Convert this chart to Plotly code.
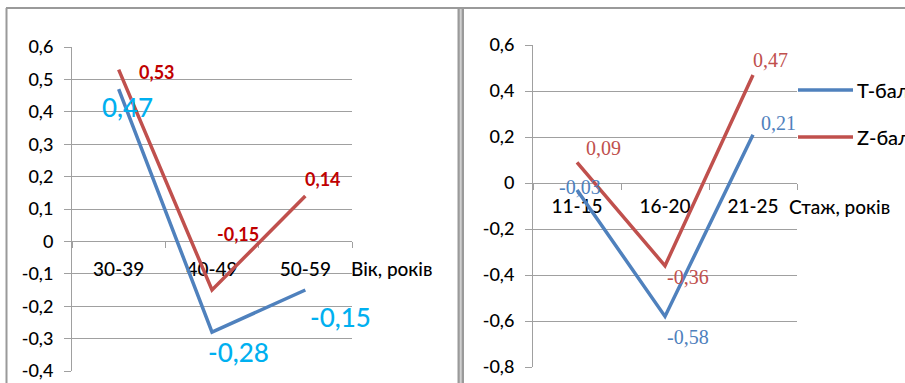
import plotly.graph_objects as go

# ---- data -------------------------------------------------------------
series_names = ["Т-бали", "Z-бали"]

age_groups = ["30-39", "40-49", "50-59"]
age_t = [0.47, -0.28, -0.15]
age_z = [0.53, -0.15, 0.14]

tenure_groups = ["11-15", "16-20", "21-25"]
tenure_t = [-0.03, -0.58, 0.21]
tenure_z = [0.09, -0.36, 0.47]

left_ticks = [0.6, 0.5, 0.4, 0.3, 0.2, 0.1, 0, -0.1, -0.2, -0.3, -0.4]
right_ticks = [0.6, 0.4, 0.2, 0, -0.2, -0.4, -0.6, -0.8]

left_title = "Вік, років"
right_title = "Стаж, років"

# ---- styling ----------------------------------------------------------
W, H = 905, 383
BLUE = "#4F81BD"
RED = "#C0504D"
GRID = "#A0A0A0"
SANS = "Lato, 'Open Sans', sans-serif"
SERIF = "'Liberation Serif', 'DejaVu Serif', serif"
TXT_W = 500


def px_x(x):
    return x / W


def px_y(y):
    return 1 - y / H


def fmt(v):
    return ("%.2f" % v).replace(".", ",") if v != 0 else "0"


def tick_text(v):
    if abs(v) < 1e-9:
        return "0"
    return ("%.1f" % v).replace(".", ",")


# plot-area geometry (pixels)
L_X0, L_X1, L_Y0, L_Y1 = 72, 352, 47, 371
R_X0, R_X1, R_Y0, R_Y1 = 533, 797, 45, 367
L_RANGE = [-0.4, 0.6]
R_RANGE = [-0.8, 0.6]

l_ydom = [px_y(L_Y1), px_y(L_Y0)]
r_ydom = [px_y(R_Y1), px_y(R_Y0)]


def zero_pos(dom, rng):
    return dom[0] + (0 - rng[0]) / (rng[1] - rng[0]) * (dom[1] - dom[0])


fig = go.Figure()

fig.add_trace(go.Scatter(x=age_groups, y=age_t, mode="lines", name=series_names[0],
                         line=dict(color=BLUE, width=3.5), xaxis="x", yaxis="y",
                         showlegend=False))
fig.add_trace(go.Scatter(x=age_groups, y=age_z, mode="lines", name=series_names[1],
                         line=dict(color=RED, width=3.5), xaxis="x", yaxis="y",
                         showlegend=False))
fig.add_trace(go.Scatter(x=tenure_groups, y=tenure_t, mode="lines", name=series_names[0],
                         line=dict(color=BLUE, width=3.5), xaxis="x2", yaxis="y2",
                         showlegend=False))
fig.add_trace(go.Scatter(x=tenure_groups, y=tenure_z, mode="lines", name=series_names[1],
                         line=dict(color=RED, width=3.5), xaxis="x2", yaxis="y2",
                         showlegend=False))

common_x = dict(type="category", showgrid=False, showline=True, linecolor=GRID,
                linewidth=1, ticks="outside", tickson="boundaries", ticklen=6,
                tickcolor=GRID, anchor="free", layer="below traces",
                range=[-0.5, 2.5], fixedrange=True)
common_y = dict(showgrid=True, gridcolor=GRID, gridwidth=1, showline=True,
                linecolor=GRID, linewidth=1, ticks="outside", ticklen=7,
                tickcolor=GRID, zeroline=False, fixedrange=True,
                ticklabelstandoff=7)

fig.update_layout(
    width=W, height=H,
    margin=dict(l=0, r=0, t=0, b=0, autoexpand=False),
    paper_bgcolor="white", plot_bgcolor="rgba(0,0,0,0)",
    showlegend=False,
    xaxis=dict(common_x, domain=[px_x(L_X0), px_x(L_X1)],
               position=zero_pos(l_ydom, L_RANGE), ticklabelstandoff=11,
               tickfont=dict(family=SANS, size=19, color="black", weight=TXT_W)),
    yaxis=dict(common_y, domain=l_ydom, range=L_RANGE, anchor="x",
               tickvals=left_ticks, ticktext=[tick_text(v) for v in left_ticks],
               tickfont=dict(family=SANS, size=18, color="black", weight=TXT_W)),
    xaxis2=dict(common_x, domain=[px_x(R_X0), px_x(R_X1)],
                position=zero_pos(r_ydom, R_RANGE), ticklabelstandoff=6,
                tickfont=dict(family=SANS, size=19, color="black", weight=TXT_W)),
    yaxis2=dict(common_y, domain=r_ydom, range=R_RANGE, anchor="x2",
                tickvals=right_ticks, ticktext=[tick_text(v) for v in right_ticks],
                tickfont=dict(family=SANS, size=18, color="black", weight=TXT_W)),
)

annotations = []

# value labels, left chart
left_t_shift = [(9, -18), (26, -20), (35, -27)]
left_z_shift = [(38, -2), (26, 56), (18, 17)]
for cat, v, (dx, dy) in zip(age_groups, age_t, left_t_shift):
    annotations.append(dict(x=cat, y=v, xref="x", yref="y", text=fmt(v), showarrow=False,
                            xshift=dx, yshift=dy,
                            font=dict(family=SANS, size=26, color="#00B0F0", weight=TXT_W)))
for cat, v, (dx, dy) in zip(age_groups, age_z, left_z_shift):
    annotations.append(dict(x=cat, y=v, xref="x", yref="y", text="<b>%s</b>" % fmt(v),
                            showarrow=False, xshift=dx, yshift=dy,
                            font=dict(family=SANS, size=18, color="#C00000")))

# value labels, right chart
right_t_shift = [(3, 3), (23, -21), (25, 12)]
right_z_shift = [(26, 14), (23, -11), (17, 15)]
for cat, v, (dx, dy) in zip(tenure_groups, tenure_t, right_t_shift):
    annotations.append(dict(x=cat, y=v, xref="x2", yref="y2", text=fmt(v), showarrow=False,
                            xshift=dx, yshift=dy,
                            font=dict(family=SERIF, size=20, color=BLUE)))
for cat, v, (dx, dy) in zip(tenure_groups, tenure_z, right_z_shift):
    annotations.append(dict(x=cat, y=v, xref="x2", yref="y2", text=fmt(v), showarrow=False,
                            xshift=dx, yshift=dy,
                            font=dict(family=SERIF, size=20, color=RED)))

# axis titles
annotations.append(dict(x=px_x(349), y=px_y(268), xref="paper", yref="paper",
                        xanchor="left", yanchor="middle", text=left_title, showarrow=False,
                        font=dict(family=SANS, size=19, color="black", weight=TXT_W)))
annotations.append(dict(x=px_x(787), y=px_y(206), xref="paper", yref="paper",
                        xanchor="left", yanchor="middle", text=right_title, showarrow=False,
                        font=dict(family=SANS, size=19, color="black", weight=TXT_W)))

# legend
shapes = []
for name, color, ly in zip(series_names, [BLUE, RED], [90, 137]):
    shapes.append(dict(type="line", xref="paper", yref="paper",
                       x0=px_x(798), x1=px_x(853), y0=px_y(ly), y1=px_y(ly),
                       line=dict(color=color, width=3.5)))
    annotations.append(dict(x=px_x(855), y=px_y(ly), xref="paper", yref="paper",
                            xanchor="left", yanchor="middle", text=name, showarrow=False,
                            font=dict(family=SANS, size=20, color="black", weight=TXT_W)))

# frame lines around the two panels
BORDER = "#9A9A9A"
shapes += [
    dict(type="line", xref="paper", yref="paper", x0=px_x(6), x1=1,
         y0=px_y(8), y1=px_y(8), line=dict(color=BORDER, width=2)),
    dict(type="line", xref="paper", yref="paper", x0=px_x(6.5), x1=px_x(6.5),
         y0=px_y(8), y1=0, line=dict(color=BORDER, width=2)),
    dict(type="rect", xref="paper", yref="paper", x0=px_x(457.5), x1=px_x(464),
         y0=0, y1=px_y(8), line=dict(width=0), fillcolor=BORDER),
    dict(type="line", xref="paper", yref="paper", x0=px_x(460.7), x1=px_x(460.7),
         y0=0, y1=px_y(9), line=dict(color="#D0D0D0", width=2)),
]

fig.update_layout(annotations=annotations, shapes=shapes)

fig.write_html("out.html")
